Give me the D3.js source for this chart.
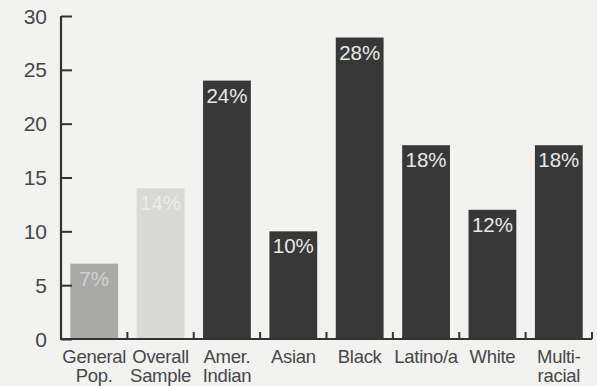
<!DOCTYPE html>
<html>
<head>
<meta charset="utf-8">
<script src="https://cdn.jsdelivr.net/npm/d3@7/dist/d3.min.js"></script>
<style>
  html, body { margin: 0; padding: 0; background: #f2f2f1; }
  svg { display: block; }
  text { font-family: "Liberation Sans", Arial, Helvetica, sans-serif; }
</style>
</head>
<body>
<svg id="chart" width="597" height="386"></svg>
<script>
// Share of each group (percent)
const categories = ["General Pop.", "Overall Sample", "Amer. Indian", "Asian", "Black", "Latino/a", "White", "Multi- racial"];
const labelLines = [["General", "Pop."], ["Overall", "Sample"], ["Amer.", "Indian"], ["Asian"], ["Black"], ["Latino/a"], ["White"], ["Multi-", "racial"]];
const values = [7, 14, 24, 10, 28, 18, 12, 18];
const valueLabels = ["7%", "14%", "24%", "10%", "28%", "18%", "12%", "18%"];
const yTicks = [0, 5, 10, 15, 20, 25, 30];

const barFill = ["#a9a9a8", "#d9d9d8", "#383838", "#383838", "#383838", "#383838", "#383838", "#383838"];
const labelFill = ["#d2d2d1", "#ececeb", "#e8e8e8", "#e8e8e8", "#e8e8e8", "#e8e8e8", "#e8e8e8", "#e8e8e8"];

const svg = d3.select("#chart");
const plotLeft = 61, plotRight = 592, plotTop = 16, plotBottom = 339;

const x = d3.scaleBand()
  .domain(categories)
  .range([plotLeft, plotRight])
  .paddingInner(0.28)
  .paddingOuter(0.14);

const y = d3.scaleLinear().domain([0, 30]).range([plotBottom, plotTop]);

const ink = "#333";
const textInk = "#474747";

// Bars
const data = categories.map((c, i) => ({ c, v: values[i], lab: valueLabels[i], i }));
svg.append("g").selectAll("rect")
  .data(data)
  .join("rect")
  .attr("x", d => x(d.c))
  .attr("width", x.bandwidth())
  .attr("y", d => y(d.v))
  .attr("height", d => y(0) - y(d.v))
  .attr("fill", d => barFill[d.i]);

// Value labels inside the top of each bar
svg.append("g").selectAll("text")
  .data(data)
  .join("text")
  .attr("x", d => x(d.c) + x.bandwidth() / 2)
  .attr("y", d => y(d.v) + 22)
  .attr("text-anchor", "middle")
  .attr("font-size", 20.5)
  .attr("fill", d => labelFill[d.i])
  .text(d => d.lab);

// Y axis: ticks point into the plot
const yAxis = d3.axisRight(y).tickValues(yTicks).tickSize(11).tickFormat("");
const gy = svg.append("g").attr("transform", `translate(${plotLeft},0)`).call(yAxis);
gy.select(".domain").attr("stroke", ink).attr("stroke-width", 2.2).attr("d", `M0,${plotTop}V${plotBottom}`);
gy.selectAll(".tick line").attr("stroke", ink).attr("stroke-width", 2);

svg.append("g").selectAll("text")
  .data(yTicks)
  .join("text")
  .attr("x", 47)
  .attr("y", d => y(d) + 7.5)
  .attr("text-anchor", "end")
  .attr("font-size", 21)
  .attr("fill", textInk)
  .text(d => d);

// X axis: baseline with short upward ticks between groups
const step = x.step();
const boundaries = categories.map(c => x(c) + x.bandwidth() + step * x.paddingInner() / 2);
const gx = svg.append("g");
gx.append("line")
  .attr("x1", plotLeft - 1).attr("x2", plotRight)
  .attr("y1", plotBottom).attr("y2", plotBottom)
  .attr("stroke", ink).attr("stroke-width", 2.2);
gx.selectAll("line.tick")
  .data(boundaries)
  .join("line")
  .attr("class", "tick")
  .attr("x1", d => d).attr("x2", d => d)
  .attr("y1", plotBottom).attr("y2", plotBottom - 7)
  .attr("stroke", ink).attr("stroke-width", 2);

// Category labels, one text per line
const lineItems = data.flatMap(d =>
  labelLines[d.i].map((t, k) => ({ t, k, cx: x(d.c) + x.bandwidth() / 2 })));
svg.append("g").selectAll("text")
  .data(lineItems)
  .join("text")
  .attr("x", d => d.cx)
  .attr("y", d => 363 + d.k * 19)
  .attr("text-anchor", "middle")
  .attr("font-size", 18.5)
  .attr("letter-spacing", -0.3)
  .attr("fill", textInk)
  .text(d => d.t);
</script>
</body>
</html>
